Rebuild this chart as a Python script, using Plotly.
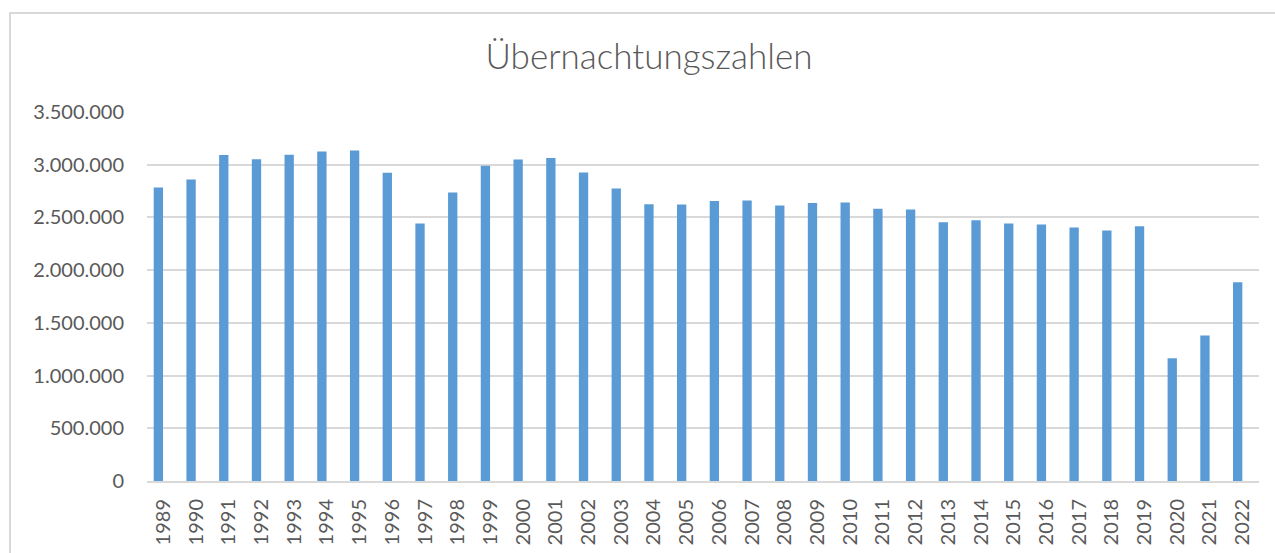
import plotly.graph_objects as go

years = [str(y) for y in range(1989, 2023)]
naechte = [
    2785000, 2860000, 3091000, 3053000, 3094000, 3126000, 3136000, 2923000,
    2443000, 2737000, 2990000, 3050000, 3063000, 2927000, 2775000, 2626000,
    2623000, 2655000, 2661000, 2614000, 2636000, 2642000, 2582000, 2576000,
    2455000, 2474000, 2443000, 2434000, 2405000, 2376000, 2417000, 1164000,
    1380000, 1886000,
]
title_text = "Übernachtungszahlen"
y_ticks = [0, 500000, 1000000, 1500000, 2000000, 2500000, 3000000, 3500000]

W, H = 1275, 553
ml, mr, mt, mb = 147, 16, 112, 72
pw = W - ml - mr
ph = H - mt - mb

fig = go.Figure(go.Bar(
    x=years, y=naechte,
    width=0.285, offset=-0.295,
    marker=dict(color="#5b9bd5", line=dict(width=0)),
    hoverinfo="x+y",
))

grey = "#595959"
fig.update_layout(
    width=W, height=H,
    margin=dict(l=ml, r=mr, t=mt, b=mb, autoexpand=False),
    paper_bgcolor="white", plot_bgcolor="white",
    separators=",.",
    showlegend=False,
    font=dict(family="Lato, 'Open Sans', sans-serif", color=grey, size=20),
    title=dict(text=title_text, x=649 / W, xanchor="center", xref="container",
               y=1 - 57 / H, yanchor="middle", yref="container",
               font=dict(size=35, color=grey, weight=300,
                         family="Lato, 'Open Sans', sans-serif")),
    xaxis=dict(
        type="category", tickangle=-90, showgrid=False, automargin=False,
        showline=True, linecolor="#d9d9d9", linewidth=2,
        ticks="", ticklabelstandoff=8,
        tickfont=dict(size=20, color=grey),
    ),
    yaxis=dict(
        range=[0, 3500000], tickvals=y_ticks, tickformat=",d", automargin=False,
        showgrid=True, gridcolor="#d9d9d9", gridwidth=1.5,
        zeroline=False, showline=False, ticks="",
        ticklabelstandoff=22,
        tickfont=dict(size=20, color=grey),
    ),
    shapes=[
        dict(type="rect", xref="paper", yref="paper",
             x0=(10 - ml) / pw, x1=(W + 20 - ml) / pw,
             y0=-(mb + 20) / ph, y1=(H - mb - 13) / ph,
             line=dict(color="#d9d9d9", width=2), fillcolor="rgba(0,0,0,0)",
             layer="below"),
    ],
)

fig.write_html(
    "out.html",
    config={"displayModeBar": False},
    post_script="document.body.style.margin='0';document.body.style.overflow='hidden';",
)
